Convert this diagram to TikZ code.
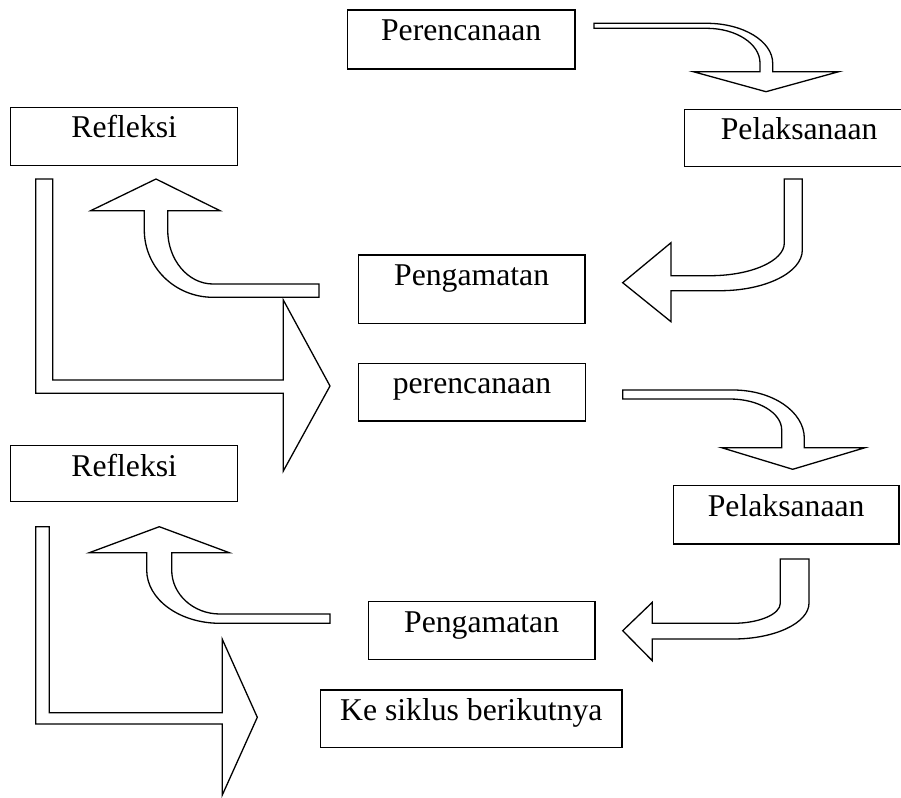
\documentclass[tikz,border=0pt]{standalone}
\usepackage{fontspec}
\setmainfont{Liberation Serif}
\begin{document}
\begin{tikzpicture}[x=1pt,y=-1pt,
  box/.style={draw, line width=1.5pt, inner sep=0pt, outer sep=0pt, anchor=north west,
    text height=30.5pt, font=\fontsize{31.7}{38}\selectfont},
  blockarrow/.style={draw, line width=1.3pt, fill=white, line join=miter}]
\useasboundingbox (0,0) rectangle (901,797);

% boxes
\node[box, minimum width=227.7pt, text depth=28.5pt] (per1) at (347.3,10) {Perencanaan};
\node[box, minimum width=229.7pt, text depth=26.9pt] (pel1) at (684.3,109.3) {Pelaksanaan};
\node[box, minimum width=227pt, text depth=27.9pt] (ref1) at (10.7,107.3) {Refleksi};
\node[box, minimum width=226.7pt, text depth=37.8pt] (pen1) at (358.3,255) {Pengamatan};
\node[box, minimum width=227.4pt, text depth=27.2pt] (per2) at (358.3,363.3) {perencanaan};
\node[box, minimum width=225.7pt, text depth=27.8pt] (pel2) at (673.3,485.7) {Pelaksanaan};
\node[box, minimum width=227pt, text depth=25.5pt] (ref2) at (10.7,445.7) {Refleksi};
\node[box, minimum width=226.7pt, text depth=27.1pt] (pen2) at (368.3,601.7) {Pengamatan};
\node[box, minimum width=301.3pt, text depth=26.8pt] (ke) at (320.7,690) {Ke siklus berikutnya};

% arrow: Perencanaan -> Pelaksanaan
\draw[blockarrow] (594,23.3) -- (706.7,23.3)
  .. controls (743.1,23.3) and (772.7,41.2) .. (772.7,63.3)
  -- (772.7,71.7) -- (838.7,71.7) -- (766,91.7) -- (693.3,71.7) -- (760,71.7) -- (760,63)
  .. controls (760,43.8) and (736.1,28.3) .. (706.7,28.3)
  -- (594,28.3) -- cycle;

% arrow: Pelaksanaan -> Pengamatan
\draw[blockarrow] (784.3,179) -- (802.3,179) -- (802.3,250)
  .. controls (802.3,272.5) and (765.4,290.7) .. (720,290.7)
  -- (671,290.7) -- (671,321.7) -- (622.7,282.7) -- (671,242.7) -- (671,275.7) -- (710,275.7)
  .. controls (751,275.7) and (784.3,261) .. (784.3,243)
  -- cycle;

% arrow: Pengamatan -> Refleksi
\draw[blockarrow] (319,284) -- (213,284)
  .. controls (188,284) and (167.7,259.8) .. (167.7,230)
  -- (167.7,210.7) -- (220,210.7) -- (156,179) -- (90.7,210.7) -- (144.3,210.7) -- (144.3,230)
  .. controls (144.3,267.2) and (175,297.3) .. (213,297.3)
  -- (319,297.3) -- cycle;

% arrow: Refleksi -> perencanaan
\draw[blockarrow] (35.7,179) -- (52.7,179) -- (52.7,380) -- (283.3,380) -- (283.3,300)
  -- (330,386) -- (283.3,471) -- (283.3,393.3) -- (35.7,393.3) -- cycle;

% arrow: perencanaan -> Pelaksanaan
\draw[blockarrow] (622.7,390) -- (733,390)
  .. controls (772.4,390) and (804.3,411.6) .. (804.3,438.3)
  -- (804.3,447.7) -- (865,447.7) -- (792.7,469.3) -- (721.7,447.7) -- (781.7,447.7) -- (781.7,430)
  .. controls (781.7,412.9) and (758.5,399) .. (730,399)
  -- (622.7,399) -- cycle;

% arrow: Pelaksanaan -> Pengamatan
\draw[blockarrow] (780.3,559) -- (809,559) -- (809,603)
  .. controls (809,622.9) and (775,639) .. (733,639)
  -- (652.3,639) -- (652.3,660.7) -- (622.7,630.7) -- (652.3,602.3) -- (652.3,623.3) -- (733,623.3)
  .. controls (759,623.3) and (780.3,614.3) .. (780.3,603.3)
  -- cycle;

% arrow: Pengamatan -> Refleksi
\draw[blockarrow] (330,614) -- (220,614)
  .. controls (193.3,614) and (171.7,594.3) .. (171.7,570)
  -- (171.7,552.7) -- (229.3,552.7) -- (159.3,526.7) -- (89.3,552.7) -- (146.7,552.7) -- (146.7,570)
  .. controls (146.7,599.4) and (179.5,623.3) .. (220,623.3)
  -- (330,623.3) -- cycle;

% arrow: Refleksi -> Ke siklus berikutnya
\draw[blockarrow] (35.7,526.7) -- (49.3,526.7) -- (49.3,712.7) -- (222.3,712.7) -- (222.3,639.3)
  -- (257.3,717.3) -- (222.3,795) -- (222.3,724) -- (35.7,724) -- cycle;
\end{tikzpicture}
\end{document}
